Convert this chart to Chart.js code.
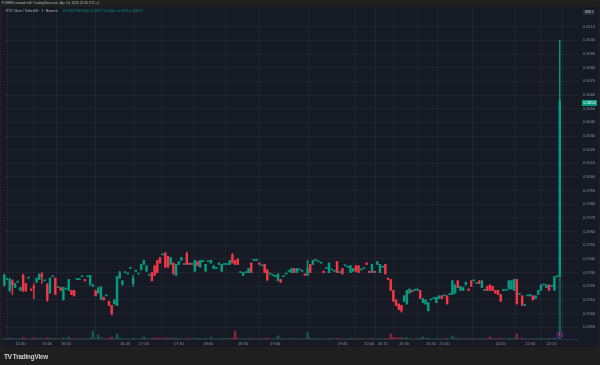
<!DOCTYPE html>
<html>
<head>
<meta charset="utf-8">
<script src="https://cdn.jsdelivr.net/npm/chart.js@4.4.1/dist/chart.umd.min.js"></script>
<style>
  html, body { margin: 0; padding: 0; background: #1f1f1f; width: 600px; height: 365px; overflow: hidden; }
  #wrap { position: relative; width: 600px; height: 365px; font-family: "Liberation Sans", Arial, sans-serif; }
  canvas { position: absolute; left: 0; top: 0; }
  .ov { position: absolute; white-space: nowrap; line-height: 1; }
  #head { left: 2px; top: 1.6px; font-size: 3.3px; color: #b2b5be; }
  #legend { left: 6px; top: 10px; font-size: 3.3px; color: #b2b5be; }
  #legend .v { color: #089981; margin-left: 5px; }
  #unit { left: 583px; top: 10px; width: 12px; height: 5px; background: #2a2e39; color: #d1d4dc; font-size: 3px; text-align: center; line-height: 5px; border-radius: 1px; }
  #brand { left: 4px; top: 354px; font-size: 6.3px; color: #d0d0d0; font-weight: bold; letter-spacing: -0.15px; }
  #brand b { font-size: 6.8px; margin-right: 1.5px; letter-spacing: -0.7px; }
</style>
</head>
<body>
<div id="wrap">
  <canvas id="chart" width="600" height="365"></canvas>
  <div class="ov" id="head">FJWHN created with TradingView.com, Apr 10, 2026 22:30 UTC+2</div>
  <div class="ov" id="legend">FTX Token / TetherUS · 1 · Binance<span class="v">O0.2927 H0.3100 L0.2927 C0.3054 +0.0127 (+4.34%)</span></div>
  <div class="ov" id="unit">USDT</div>
  <div class="ov" id="brand"><b>TV</b>TradingView</div>
</div>
<script>
// ── 1-minute candles, FTT/USDT ─────────────────────────────────────────────
const OPEN = [
  .2921,.2925,.2917,.2924,.2919,.2923,.2917,.2928,.2922,.2926,
  .2918,.2920,.2923,.2925,.2929,.2924,.2921,.2915,.2927,.2926,
  .2919,.2919,.2910,.2918,.2917,.2917,.2917,.2925,.2925,.2927,
  .2925,.2927,.2921,.2920,.2917,.2915,.2911,.2912,.2913,.2909,
  .2906,.2907,.2906,.2926,.2921,.2930,.2929,.2933,.2922,.2931,
  .2929,.2932,.2936,.2931,.2928,.2930,.2935,.2939,.2941,.2943,
  .2944,.2942,.2936,.2937,.2928,.2936,.2939,.2936,.2944,.2937,
  .2936,.2931,.2938,.2934,.2938,.2931,.2938,.2937,.2933,.2933,
  .2936,.2931,.2936,.2936,.2936,.2943,.2939,.2940,.2930,.2928,
  .2930,.2930,.2937,.2939,.2939,.2937,.2935,.2936,.2932,.2929,
  .2928,.2927,.2924,.2925,.2927,.2929,.2931,.2930,.2933,.2930,
  .2932,.2931,.2929,.2928,.2936,.2936,.2939,.2938,.2937,.2931,
  .2933,.2930,.2932,.2931,.2938,.2930,.2933,.2935,.2934,.2930,
  .2931,.2935,.2935,.2932,.2933,.2937,.2931,.2930,.2931,.2936,
  .2930,.2934,.2936,.2926,.2925,.2917,.2910,.2907,.2906,.2909,
  .2907,.2915,.2917,.2917,.2917,.2917,.2908,.2907,.2902,.2910,
  .2911,.2908,.2911,.2913,.2913,.2913,.2914,.2914,.2915,.2924,
  .2917,.2917,.2921,.2918,.2924,.2924,.2922,.2924,.2919,.2917,
  .2920,.2921,.2920,.2917,.2917,.2914,.2917,.2917,.2918,.2918,
  .2917,.2925,.2914,.2913,.2906,.2913,.2913,.2913,.2911,.2914,
  .2917,.2921,.2919,.2921,.2920,.2917,.2927,.2927
];
const HIGH = [
  .2929,.2925,.2926,.2925,.2922,.2923,.2919,.2929,.2922,.2926,
  .2918,.2922,.2926,.2929,.2930,.2924,.2922,.2926,.2927,.2926,
  .2919,.2919,.2919,.2918,.2925,.2917,.2917,.2925,.2925,.2927,
  .2925,.2927,.2928,.2921,.2917,.2919,.2920,.2912,.2913,.2909,
  .2906,.2910,.2927,.2931,.2924,.2930,.2929,.2933,.2928,.2931,
  .2929,.2936,.2939,.2935,.2928,.2930,.2935,.2939,.2941,.2943,
  .2945,.2942,.2941,.2937,.2936,.2938,.2941,.2936,.2945,.2937,
  .2936,.2939,.2938,.2939,.2939,.2936,.2938,.2939,.2935,.2933,
  .2937,.2936,.2936,.2936,.2939,.2944,.2939,.2940,.2930,.2930,
  .2930,.2933,.2937,.2939,.2939,.2937,.2935,.2936,.2932,.2929,
  .2928,.2928,.2929,.2925,.2927,.2929,.2931,.2933,.2933,.2933,
  .2932,.2931,.2929,.2939,.2936,.2939,.2939,.2938,.2937,.2931,
  .2933,.2937,.2932,.2931,.2938,.2930,.2933,.2935,.2934,.2935,
  .2933,.2935,.2935,.2932,.2933,.2937,.2931,.2936,.2931,.2938,
  .2936,.2934,.2936,.2926,.2925,.2917,.2910,.2907,.2906,.2913,
  .2917,.2918,.2917,.2917,.2918,.2917,.2911,.2910,.2908,.2910,
  .2911,.2912,.2913,.2913,.2913,.2913,.2914,.2924,.2921,.2924,
  .2920,.2919,.2923,.2918,.2924,.2924,.2922,.2924,.2924,.2917,
  .2920,.2921,.2920,.2917,.2917,.2914,.2917,.2917,.2924,.2924,
  .2925,.2925,.2914,.2913,.2906,.2913,.2914,.2913,.2913,.2917,
  .2921,.2921,.2921,.2921,.2920,.2927,.2927,.3100
];
const LOW = [
  .2920,.2925,.2916,.2914,.2919,.2923,.2917,.2916,.2916,.2926,
  .2917,.2911,.2923,.2925,.2922,.2924,.2909,.2915,.2927,.2914,
  .2919,.2917,.2910,.2918,.2917,.2914,.2913,.2925,.2925,.2927,
  .2924,.2927,.2921,.2920,.2913,.2915,.2910,.2910,.2913,.2906,
  .2899,.2907,.2906,.2926,.2921,.2930,.2929,.2933,.2920,.2931,
  .2929,.2932,.2936,.2931,.2928,.2924,.2928,.2930,.2937,.2943,
  .2934,.2934,.2936,.2929,.2928,.2936,.2939,.2936,.2936,.2936,
  .2936,.2931,.2935,.2934,.2938,.2931,.2938,.2937,.2933,.2933,
  .2936,.2931,.2936,.2936,.2936,.2937,.2936,.2936,.2930,.2928,
  .2930,.2930,.2930,.2939,.2939,.2936,.2935,.2930,.2924,.2929,
  .2928,.2927,.2924,.2923,.2927,.2929,.2931,.2930,.2930,.2930,
  .2932,.2931,.2928,.2928,.2930,.2936,.2939,.2938,.2937,.2930,
  .2933,.2930,.2932,.2931,.2930,.2930,.2929,.2935,.2934,.2930,
  .2931,.2931,.2930,.2932,.2933,.2936,.2930,.2930,.2930,.2936,
  .2930,.2934,.2929,.2925,.2917,.2909,.2906,.2903,.2901,.2909,
  .2907,.2915,.2916,.2917,.2917,.2911,.2908,.2907,.2902,.2910,
  .2911,.2908,.2911,.2911,.2913,.2907,.2914,.2914,.2915,.2919,
  .2917,.2917,.2921,.2917,.2920,.2924,.2922,.2922,.2919,.2917,
  .2917,.2917,.2917,.2915,.2914,.2909,.2917,.2917,.2918,.2918,
  .2917,.2907,.2914,.2906,.2906,.2913,.2913,.2910,.2911,.2914,
  .2917,.2921,.2919,.2917,.2920,.2917,.2927,.2927
];
const CLOSE = [
  .2928,.2925,.2925,.2921,.2922,.2923,.2919,.2917,.2917,.2926,
  .2917,.2919,.2926,.2929,.2927,.2924,.2910,.2926,.2927,.2914,
  .2919,.2917,.2919,.2918,.2925,.2914,.2913,.2925,.2925,.2927,
  .2924,.2927,.2928,.2921,.2913,.2919,.2919,.2910,.2913,.2906,
  .2900,.2910,.2927,.2930,.2924,.2930,.2929,.2933,.2926,.2931,
  .2929,.2936,.2939,.2935,.2928,.2924,.2928,.2930,.2937,.2943,
  .2934,.2934,.2941,.2929,.2936,.2938,.2941,.2936,.2936,.2936,
  .2936,.2939,.2935,.2939,.2939,.2936,.2938,.2939,.2935,.2933,
  .2937,.2936,.2936,.2936,.2939,.2937,.2936,.2936,.2930,.2930,
  .2930,.2933,.2930,.2939,.2939,.2936,.2935,.2930,.2925,.2929,
  .2928,.2928,.2929,.2923,.2927,.2929,.2931,.2933,.2930,.2933,
  .2932,.2931,.2928,.2933,.2930,.2939,.2939,.2938,.2937,.2930,
  .2933,.2937,.2932,.2931,.2930,.2930,.2929,.2935,.2934,.2935,
  .2933,.2931,.2930,.2932,.2933,.2936,.2930,.2936,.2930,.2938,
  .2936,.2934,.2929,.2925,.2917,.2909,.2906,.2903,.2902,.2913,
  .2917,.2918,.2916,.2917,.2918,.2911,.2911,.2910,.2908,.2910,
  .2911,.2912,.2913,.2911,.2913,.2907,.2914,.2924,.2921,.2919,
  .2920,.2919,.2923,.2917,.2920,.2924,.2922,.2922,.2924,.2917,
  .2917,.2917,.2917,.2915,.2914,.2909,.2917,.2917,.2924,.2924,
  .2925,.2907,.2914,.2906,.2906,.2913,.2914,.2910,.2913,.2917,
  .2921,.2921,.2921,.2917,.2920,.2927,.2927,.3056
];
// volume, thousand FTT
const VOLUME = [
  1.2,0.6,1.5,0.9,0.5,0.4,0.8,1.9,1.1,0.3,
  0.5,1.4,0.7,0.9,1.0,0.3,1.8,1.3,0.4,1.2,
  0.3,0.6,1.5,0.4,3.0,0.8,0.9,0.3,0.4,0.5,
  0.6,0.3,1.6,12.0,1.1,6.1,1.9,0.7,0.3,1.2,
  3.0,0.9,7.4,1.6,0.8,0.3,0.4,0.3,1.1,0.4,
  0.3,0.9,3.0,1.2,0.4,1.0,1.3,1.5,0.8,0.3,
  1.7,1.2,0.9,1.1,1.4,0.6,0.7,0.3,1.6,0.4,
  0.3,1.3,0.6,1.0,0.4,0.9,0.3,3.0,0.5,0.3,
  0.5,1.1,0.3,0.3,0.8,1.4,12.0,1.0,0.3,0.6,
  0.3,0.7,1.2,0.3,0.3,0.5,0.3,1.0,1.6,0.3,
  0.3,0.4,4.5,0.6,0.3,0.3,0.3,0.8,0.6,0.7,
  0.3,0.3,0.4,9.2,1.1,0.9,0.3,0.3,0.3,0.5,
  0.3,1.0,0.3,0.3,1.2,0.3,0.6,0.3,0.3,0.8,
  0.5,0.7,0.9,0.3,0.3,0.4,0.5,1.1,0.4,0.6,
  0.9,0.3,1.0,0.6,7.5,2.4,1.8,1.6,2.0,1.4,
  1.9,0.8,0.5,0.3,0.4,1.0,3.0,0.9,1.3,0.3,
  0.3,0.8,0.5,0.6,0.3,1.2,0.3,4.5,1.5,1.1,
  0.6,0.5,0.8,0.4,0.9,0.3,0.3,0.5,0.9,0.3,
  0.7,3.0,0.6,0.8,0.9,1.5,0.3,0.3,1.0,0.8,
  1.2,7.5,0.3,1.4,0.3,0.3,0.4,0.6,0.5,0.7,
  0.9,0.3,0.4,0.8,0.3,1.6,0.4,93.0
];

// time axis: bar index -> label
const TIME_TICK_INDEX = [6, 16, 23, 45, 52, 65, 76, 89, 101, 126, 136, 141, 149, 159, 164, 185, 196, 204];
const TIME_LABELS = ["15:30", "15:45", "16:00", "16:45", "17:00", "17:30", "18:00", "18:30", "19:00",
                     "19:45", "20:00", "20:15", "20:30", "20:45", "21:00", "21:45", "22:00", "22:15"];
const PRICE_TICKS = [0.2890, 0.2900, 0.2910, 0.2920, 0.2930, 0.2940, 0.2950, 0.2960, 0.2970, 0.2980,
                     0.2990, 0.3000, 0.3010, 0.3020, 0.3030, 0.3040, 0.3050, 0.3060, 0.3070, 0.3080,
                     0.3090, 0.3100, 0.3110];
const LAST_PRICE = 0.3054;

// ── look ──────────────────────────────────────────────────────────────────
const UP = "#089981", DOWN = "#f23645";
const UP_VOL = "rgba(8,153,129,0.5)", DOWN_VOL = "rgba(242,54,69,0.5)";
const PANE_BG = "#161a25";
const GRID = "rgba(42,46,57,0.55)";
const TICK_FONT = { family: "'Liberation Sans', Arial, sans-serif", size: 4 };
const PRICE_MIN = 0.28814, PRICE_MAX = 0.31237;
const RIGHT_GAP_BARS = 6.3;     // empty space right of last candle
const VOLUME_SHARE = 0.187;     // tallest volume bar height / pane height

const N = OPEN.length;
const idx = OPEN.map((_, i) => i);
const isUp = i => CLOSE[i] >= OPEN[i];
const candleColors = idx.map(i => isUp(i) ? UP : DOWN);
const volColors = idx.map(i => isUp(i) ? UP_VOL : DOWN_VOL);

const paneBg = {
  id: "paneBg",
  beforeDraw(chart) {
    const c = chart.ctx;
    c.save();
    c.fillStyle = PANE_BG;
    c.fillRect(2, 7, 596, 340);
    c.restore();
  }
};

const overlays = {
  id: "overlays",
  afterDatasetsDraw(chart) {
    const c = chart.ctx, y = chart.scales.y, x = chart.scales.x, a = chart.chartArea;
    c.save();
    // last price tag
    const py = Math.round(y.getPixelForValue(LAST_PRICE));
    c.fillStyle = UP;
    c.fillRect(a.right + 4, py - 3, 15, 6);
    c.fillStyle = "#ffffff";
    c.font = "4px 'Liberation Sans', Arial, sans-serif";
    c.textAlign = "center";
    c.textBaseline = "middle";
    c.fillText(LAST_PRICE.toFixed(4), a.right + 11.5, py + 0.3);
    // event marker under the last bar
    const ex = x.getPixelForValue(N - 1), ey = a.bottom - 4;
    c.beginPath();
    c.arc(ex, ey, 2.6, 0, Math.PI * 2);
    c.fillStyle = PANE_BG;
    c.fill();
    c.lineWidth = 0.9;
    c.strokeStyle = "#9c27b0";
    c.stroke();
    c.fillStyle = "#ce93d8";
    c.font = "3px 'Liberation Sans', Arial, sans-serif";
    c.fillText("E", ex, ey + 0.2);
    c.restore();
  }
};

new Chart(document.getElementById("chart").getContext("2d"), {
  type: "bar",
  data: {
    datasets: [
      {
        label: "Body",
        data: idx.map(i => ({ x: i, y: [Math.min(OPEN[i], CLOSE[i]), Math.max(OPEN[i], CLOSE[i])] })),
        backgroundColor: candleColors,
        barThickness: 1.8,
        minBarLength: 1,
        grouped: false,
        borderWidth: 0,
        order: 1,
        yAxisID: "y",
      },
      {
        label: "Wick",
        data: idx.map(i => ({ x: i, y: [LOW[i], HIGH[i]] })),
        backgroundColor: candleColors,
        barThickness: 0.8,
        grouped: false,
        borderWidth: 0,
        order: 2,
        yAxisID: "y",
      },
      {
        label: "Volume",
        data: idx.map(i => ({ x: i, y: VOLUME[i] })),
        backgroundColor: volColors,
        barThickness: 1.8,
        grouped: false,
        borderWidth: 0,
        order: 3,
        yAxisID: "vol",
      }
    ]
  },
  options: {
    responsive: false,
    animation: false,
    devicePixelRatio: 1,
    layout: { padding: { left: 3, top: 8, right: 0, bottom: 18 } },
    plugins: { legend: { display: false }, tooltip: { enabled: false } },
    scales: {
      x: {
        type: "linear",
        min: -0.5,
        max: N - 0.5 + RIGHT_GAP_BARS,
        offset: false,
        grid: { color: GRID, drawTicks: false },
        border: { display: true, color: "#2a2e39" },
        afterBuildTicks: s => { s.ticks = TIME_TICK_INDEX.map(v => ({ value: v })); },
        afterFit: s => { s.height = 8; },
        ticks: {
          autoSkip: false, maxRotation: 0, padding: 2,
          color: "#8d909a", font: TICK_FONT,
          callback: (v, i) => TIME_LABELS[i]
        }
      },
      y: {
        position: "right",
        min: PRICE_MIN,
        max: PRICE_MAX,
        grid: { color: GRID, drawTicks: false },
        border: { display: false },
        afterBuildTicks: s => { s.ticks = PRICE_TICKS.map(v => ({ value: v })); },
        afterFit: s => { s.width = 22; },
        ticks: {
          padding: 5, color: "#8d909a", font: TICK_FONT,
          callback: v => v.toFixed(4)
        }
      },
      vol: {
        display: false,
        position: "left",
        min: 0,
        max: Math.max(...VOLUME) / VOLUME_SHARE,
      }
    }
  },
  plugins: [paneBg, overlays]
});
</script>
</body>
</html>
